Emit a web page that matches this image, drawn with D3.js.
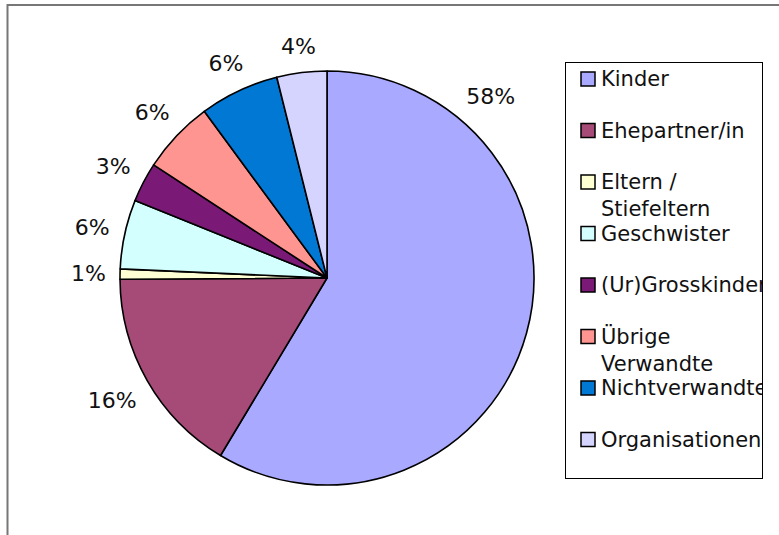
<!DOCTYPE html>
<html>
<head>
<meta charset="utf-8">
<script src="https://cdn.jsdelivr.net/npm/d3@7"></script>
<style>
  html, body { margin: 0; padding: 0; background: #fff; }
  svg { display: block; font-family: "DejaVu Sans", sans-serif; }
</style>
</head>
<body>
<div id="chart"></div>
<script>
// Categories and their shares (percent)
const categories = ['Kinder', 'Ehepartner/in', 'Eltern / Stiefeltern', 'Geschwister',
  '(Ur)Grosskinder', 'Übrige Verwandte', 'Nichtverwandte', 'Organisationen'];
const values = [58.6, 16.3, 0.8, 5.4, 3.1, 5.7, 6.2, 3.9];
const labels = ['58%', '16%', '1%', '6%', '3%', '6%', '6%', '4%'];
const colors = ['#a9a9ff', '#a64b77', '#ffffd4', '#d4ffff', '#7b1a76', '#ff9590', '#0078d4', '#d4d4ff'];

const width = 779, height = 535;
const cx = 327, cy = 278, radius = 207;

const svg = d3.select('#chart').append('svg')
  .attr('width', width)
  .attr('height', height);

// outer chart frame (runs off the right and bottom edge)
svg.append('rect')
  .attr('x', 7.5).attr('y', 5)
  .attr('width', width + 10).attr('height', height + 10)
  .attr('fill', 'none')
  .attr('stroke', '#777')
  .attr('stroke-width', 2);

const data = categories.map((c, i) => ({ name: c, value: values[i], label: labels[i], color: colors[i] }));

const pie = d3.pie().value(d => d.value).sort(null);
const arc = d3.arc().innerRadius(0).outerRadius(radius);
const arcs = pie(data);

const g = svg.append('g').attr('transform', `translate(${cx},${cy})`);

g.selectAll('path')
  .data(arcs)
  .enter()
  .append('path')
  .attr('d', arc)
  .attr('fill', d => d.data.color)
  .attr('stroke', '#000')
  .attr('stroke-width', 1.6)
  .attr('stroke-linejoin', 'round');

// data labels, outside the pie along the mid angle
// (the big slice's label was moved up, away from the legend)
const gap = 14;
const labelG = g.selectAll('.lbl')
  .data(arcs)
  .enter()
  .append('text')
  .attr('class', 'lbl')
  .attr('font-size', 22)
  .attr('fill', '#111')
  .attr('text-anchor', 'middle')
  .attr('dominant-baseline', 'central')
  .text(d => d.data.label);

labelG.each(function(d, i) {
  const box = this.getBBox();
  const a = i === 0 ? 42 * Math.PI / 180 : (d.startAngle + d.endAngle) / 2;
  const ux = Math.sin(a), uy = -Math.cos(a);
  const ext = Math.abs(ux) * box.width / 2 + Math.abs(uy) * box.height / 2 * 0.8;
  const r = radius + gap + ext;
  d3.select(this).attr('x', ux * r).attr('y', uy * r);
});

// legend
const lx = 565, ly = 62, lw = 197, lh = 416;
svg.append('clipPath').attr('id', 'legclip')
  .append('rect').attr('x', lx).attr('y', ly).attr('width', lw).attr('height', lh);

svg.append('rect')
  .attr('x', lx + 0.5).attr('y', ly + 0.5)
  .attr('width', lw).attr('height', lh)
  .attr('fill', '#fff')
  .attr('stroke', '#000')
  .attr('stroke-width', 1);

const legend = svg.append('g').attr('clip-path', 'url(#legclip)');
const step = 51.5;

const items = legend.selectAll('.legend-item')
  .data(data)
  .enter()
  .append('g')
  .attr('class', 'legend-item')
  .attr('transform', (d, i) => `translate(${lx + 16}, ${ly + 17 + i * step})`);

items.append('rect')
  .attr('x', 0).attr('y', -7)
  .attr('width', 14).attr('height', 14)
  .attr('fill', d => d.color)
  .attr('stroke', '#000')
  .attr('stroke-width', 1.5);

items.append('text')
  .attr('x', 20)
  .attr('y', 0)
  .attr('font-size', 21)
  .attr('fill', '#111')
  .attr('dominant-baseline', 'central')
  .each(function(d) {
    // simple word wrap
    const t = d3.select(this);
    const words = d.name.split(' ');
    const maxW = 160;
    let line = [];
    let tspan = t.append('tspan').attr('x', 20).attr('dy', 0);
    words.forEach(w => {
      line.push(w);
      tspan.text(line.join(' '));
      if (tspan.node().getComputedTextLength() > maxW && line.length > 1) {
        line.pop();
        tspan.text(line.join(' '));
        line = [w];
        tspan = t.append('tspan').attr('x', 20).attr('dy', 27).text(w);
      }
    });
  });
</script>
</body>
</html>
